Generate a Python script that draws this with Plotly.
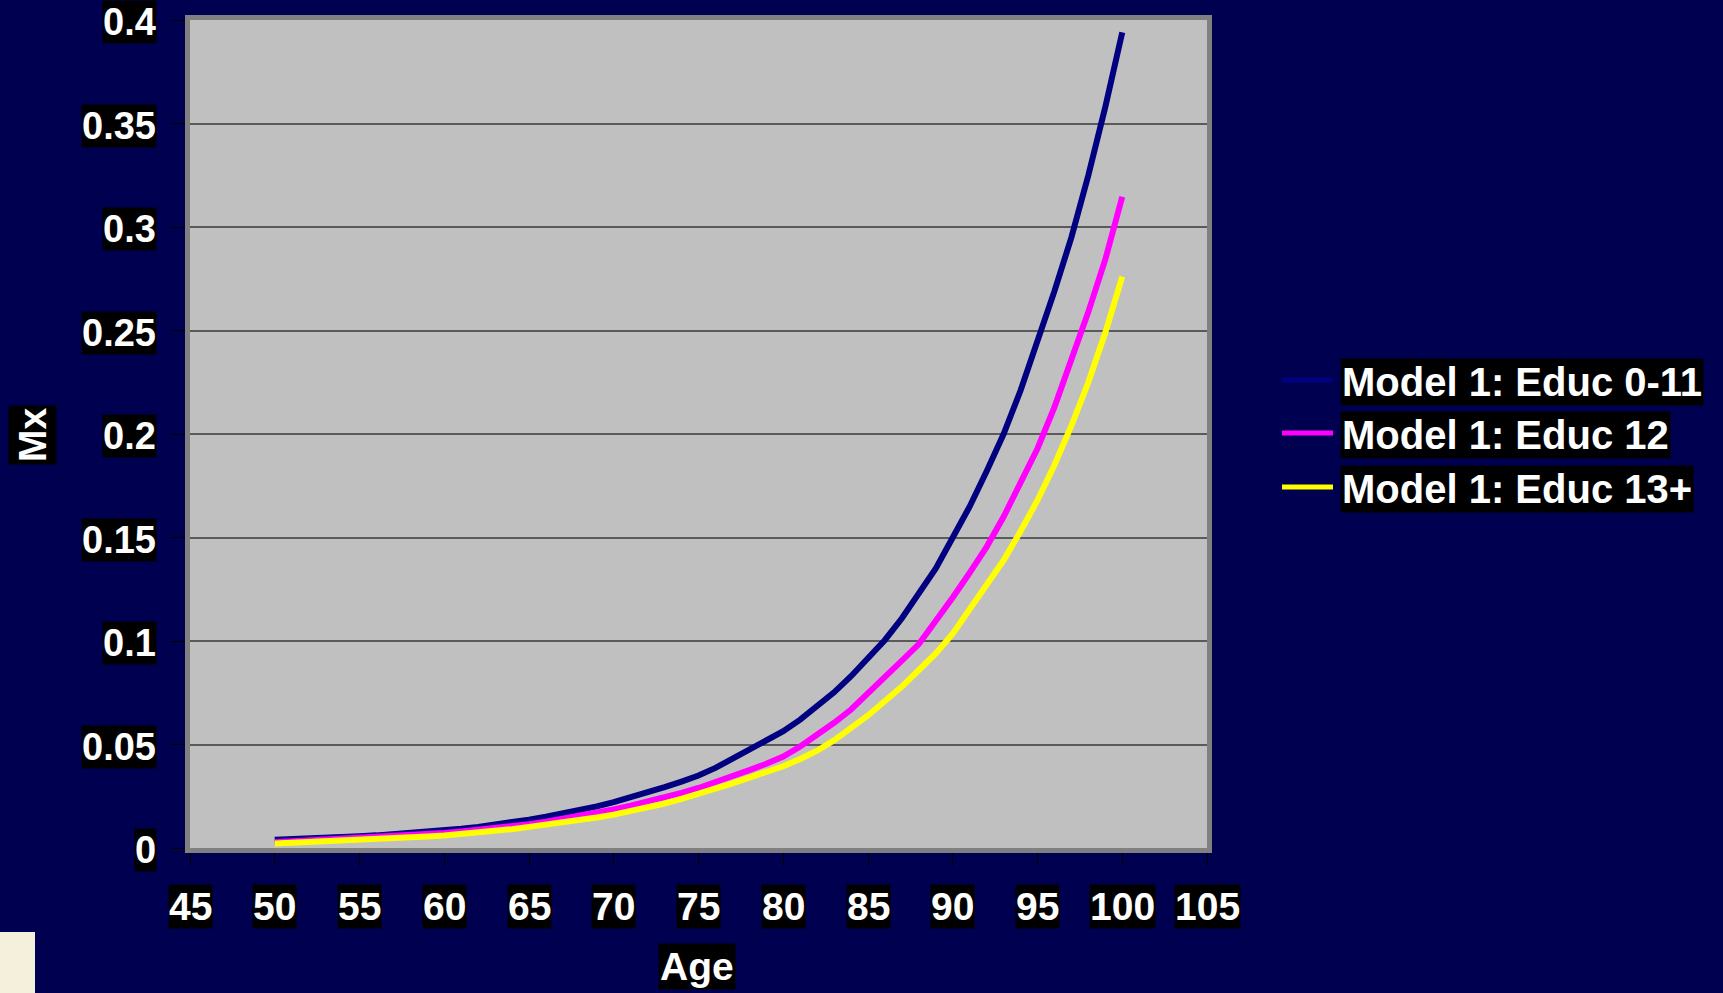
import plotly.graph_objects as go

ages = list(range(50, 101))

educ_0_11 = [0.0040, 0.0042, 0.0045, 0.0048, 0.0052, 0.0057, 0.0061, 0.0066, 0.0072, 0.0078,
             0.0085, 0.0093, 0.0102, 0.0112, 0.0124, 0.0137, 0.0151, 0.0166, 0.0182, 0.0201,
             0.0222, 0.0244, 0.0268, 0.0294, 0.0321, 0.0350, 0.0387, 0.0430, 0.0478, 0.0520,
             0.0564, 0.0620, 0.0682, 0.0752, 0.0830, 0.0915, 0.1005, 0.1110, 0.1225, 0.1350,
             0.1500, 0.1650, 0.1820, 0.2000, 0.2210, 0.2440, 0.2690, 0.2950, 0.3250, 0.3580,
             0.3940]

educ_12 = [0.0028, 0.0032, 0.0035, 0.0039, 0.0044, 0.0049, 0.0053, 0.0058, 0.0062, 0.0067,
           0.0073, 0.0080, 0.0087, 0.0095, 0.0105, 0.0115, 0.0127, 0.0140, 0.0154, 0.0169,
           0.0186, 0.0204, 0.0223, 0.0244, 0.0266, 0.0290, 0.0317, 0.0345, 0.0376, 0.0407,
           0.0442, 0.0490, 0.0545, 0.0605, 0.0669, 0.0745, 0.0825, 0.0905, 0.0985, 0.1095,
           0.1210, 0.1330, 0.1455, 0.1600, 0.1760, 0.1930, 0.2130, 0.2350, 0.2590, 0.2843,
           0.3146]

educ_13p = [0.0022, 0.0025, 0.0028, 0.0031, 0.0034, 0.0038, 0.0042, 0.0046, 0.0050, 0.0055,
            0.0060, 0.0066, 0.0073, 0.0081, 0.0091, 0.0102, 0.0112, 0.0122, 0.0134, 0.0147,
            0.0161, 0.0177, 0.0195, 0.0215, 0.0237, 0.0260, 0.0285, 0.0312, 0.0340, 0.0367,
            0.0395, 0.0430, 0.0470, 0.0520, 0.0580, 0.0640, 0.0710, 0.0780, 0.0860, 0.0940,
            0.1035, 0.1150, 0.1265, 0.1390, 0.1530, 0.1680, 0.1850, 0.2040, 0.2250, 0.2490,
            0.2760]

series_names = ["Model 1: Educ 0-11", "Model 1: Educ 12", "Model 1: Educ 13+"]
series_colors = ["#000080", "#FF00FF", "#FFFF00"]

x_ticks = list(range(45, 106, 5))
x_tick_labels = [str(v) for v in x_ticks]
y_ticks = [0, 0.05, 0.1, 0.15, 0.2, 0.25, 0.3, 0.35, 0.4]
y_tick_labels = ["0", "0.05", "0.1", "0.15", "0.2", "0.25", "0.3", "0.35", "0.4"]

W, H = 1723, 993
ML, MR, MT, MB = 190, 516, 20, 145
PW, PH = W - ML - MR, H - MT - MB


def px_x(p):
    return (p - ML) / PW


def px_y(p):
    return (H - MB - p) / PH


FONT = "Arial, Liberation Sans, sans-serif"
FS = 39

fig = go.Figure()
for name, vals, col in zip(series_names, [educ_0_11, educ_12, educ_13p], series_colors):
    fig.add_trace(go.Scatter(x=ages, y=vals, mode="lines", name=name,
                             line=dict(color=col, width=6), showlegend=False))

annotations = []
for v, t in zip(x_ticks, x_tick_labels):
    annotations.append(dict(x=v, xref="x", y=px_y(906), yref="paper", text="<b>%s</b>" % t,
                            showarrow=False, xanchor="center", yanchor="middle",
                            bgcolor="black", borderpad=0,
                            font=dict(family=FONT, size=FS, color="white")))
for v, t in zip(y_ticks, y_tick_labels):
    annotations.append(dict(x=px_x(157), xref="paper", y=v, yref="y", text="<b>%s</b>" % t,
                            showarrow=False, xanchor="right", yanchor="middle", yshift=-2,
                            bgcolor="black", borderpad=0,
                            font=dict(family=FONT, size=FS - 1, color="white")))
# axis titles
annotations.append(dict(x=px_x(32), xref="paper", y=px_y(435), yref="paper", text="<b>Mx</b>",
                        textangle=-90, showarrow=False, xanchor="center", yanchor="middle",
                        bgcolor="black", borderpad=2,
                        font=dict(family=FONT, size=FS, color="white")))
annotations.append(dict(x=px_x(697), xref="paper", y=px_y(966), yref="paper", text="<b>Age</b>",
                        showarrow=False, xanchor="center", yanchor="middle",
                        bgcolor="black", borderpad=1,
                        font=dict(family=FONT, size=FS, color="white")))

shapes = []
leg_y = [380, 433, 487]
for name, col, ly in zip(series_names, series_colors, leg_y):
    shapes.append(dict(type="line", xref="paper", yref="paper",
                       x0=px_x(1282), x1=px_x(1333), y0=px_y(ly), y1=px_y(ly),
                       line=dict(color=col, width=5)))
    annotations.append(dict(x=px_x(1340), xref="paper", y=px_y(ly + 2), yref="paper",
                            text="<b>%s</b>" % name, showarrow=False,
                            xanchor="left", yanchor="middle", bgcolor="black", borderpad=1,
                            font=dict(family=FONT, size=FS + 1, color="white")))
# beige corner block
shapes.append(dict(type="rect", xref="paper", yref="paper",
                   x0=px_x(0), x1=px_x(35), y0=px_y(993), y1=px_y(932),
                   fillcolor="#F5F0DC", line=dict(width=0), layer="above"))

fig.update_layout(
    width=W, height=H,
    margin=dict(l=ML, r=MR, t=MT, b=MB, pad=0),
    paper_bgcolor="#000050",
    plot_bgcolor="#C0C0C0",
    showlegend=False,
    annotations=annotations,
    shapes=shapes,
    xaxis=dict(range=[45, 105], tickvals=x_ticks, showticklabels=False,
               ticks="outside", ticklen=13, tickcolor="black", tickwidth=1,
               showgrid=False, zeroline=False,
               showline=True, linecolor="#808080", linewidth=5, mirror=True),
    yaxis=dict(range=[0, 0.4], tickvals=y_ticks, showticklabels=False,
               ticks="outside", ticklen=13, tickcolor="black", tickwidth=1,
               showgrid=True, gridcolor="#5A5A5A", gridwidth=1.5, zeroline=False,
               showline=True, linecolor="#808080", linewidth=5, mirror=True),
)

fig.write_html("out.html", config={"displayModeBar": False},
               post_script="document.body.style.margin='0';document.body.style.overflow='hidden';"
                           "document.documentElement.style.background='#000050';")
